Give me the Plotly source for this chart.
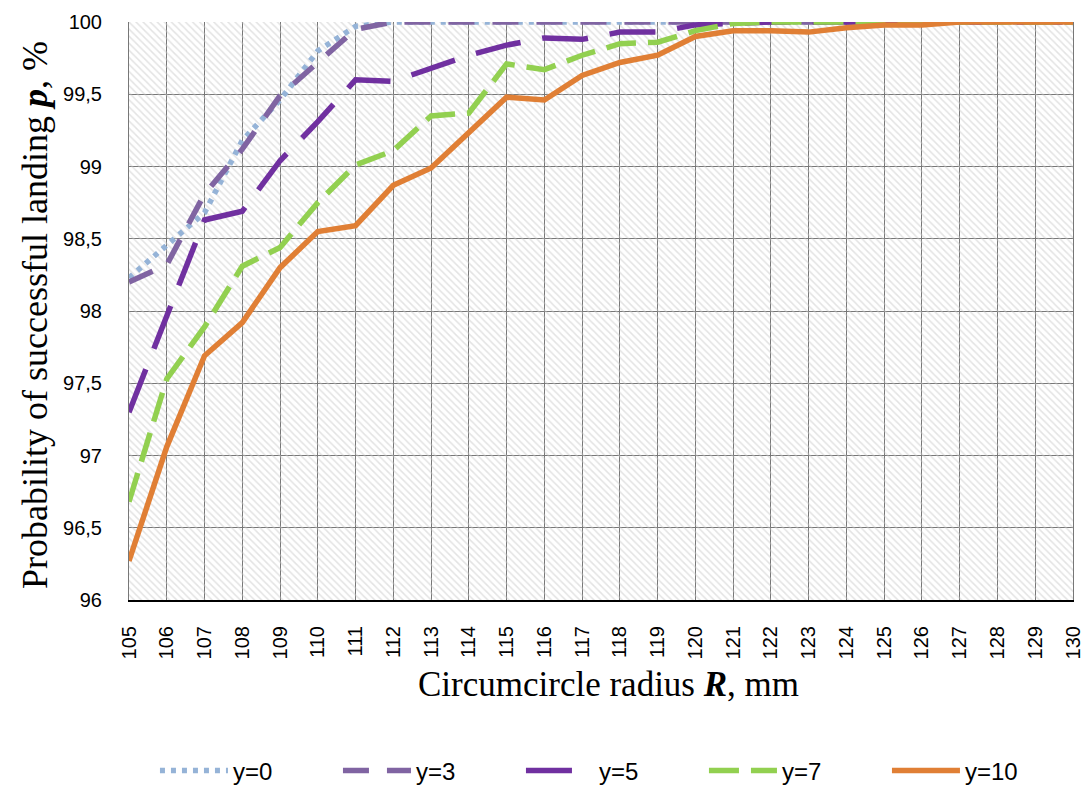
import plotly.graph_objects as go

R = list(range(105, 131))

p_y0 = [98.23, 98.45, 98.68, 99.18, 99.46, 99.80, 99.97, 100, 100, 100, 100, 100, 100, 100, 100,
        100, 100, 100, 100, 100, 100, 100, 100, 100, 100, 100]
p_y3 = [98.20, 98.32, 98.81, 99.12, 99.49, 99.72, 99.95, 100, 100, 100, 100, 100, 100, 100, 100,
        100, 100, 100, 100, 100, 100, 100, 100, 100, 100, 100]
p_y5 = [97.30, 97.97, 98.63, 98.69, 99.04, 99.31, 99.60, 99.59, 99.68, 99.77, 99.84, 99.89, 99.88,
        99.93, 99.93, 99.98, 99.99, 100, 100, 100, 100, 100, 100, 100, 100, 100]
p_y7 = [96.68, 97.53, 97.89, 98.31, 98.44, 98.75, 99.01, 99.11, 99.35, 99.37, 99.71, 99.67, 99.77,
        99.85, 99.86, 99.94, 99.99, 100, 100, 100, 100, 100, 100, 100, 100, 100]
p_y10 = [96.27, 97.06, 97.69, 97.92, 98.30, 98.55, 98.59, 98.87, 98.99, 99.23, 99.48, 99.46, 99.63,
         99.72, 99.77, 99.90, 99.94, 99.94, 99.93, 99.96, 99.98, 99.98, 100, 100, 100, 100]

series_names = ["y=0", "y=3", "y=5", "y=7", "y=10"]
series_vals = [p_y0, p_y3, p_y5, p_y7, p_y10]
colors = ["#95B3D7", "#8064A2", "#7030A0", "#92D050", "#E07F35"]
dashes = ["5px,6px", "26px,18px", "46px,22px", "30px,12px", "solid"]

Y_MIN, Y_MAX = 96, 100

fig = go.Figure()

# hatched plot background
fig.add_trace(go.Scatter(
    x=[R[0], R[-1], R[-1], R[0], R[0]],
    y=[Y_MIN, Y_MIN, Y_MAX, Y_MAX, Y_MIN],
    mode="lines", line=dict(width=0), fill="toself",
    fillcolor="rgba(0,0,0,0)",
    fillpattern=dict(shape="\\", fgcolor="#c8c8c8", bgcolor="rgba(0,0,0,0)", size=5, solidity=0.3),
    showlegend=False, hoverinfo="skip"))

for name, vals, c, d in zip(series_names, series_vals, colors, dashes):
    fig.add_trace(go.Scatter(
        x=R, y=vals, name=name, mode="lines",
        line=dict(color=c, width=5.5, dash=d)))

fig.update_layout(
    width=1086, height=787,
    margin=dict(l=129, r=13, t=22, b=187),
    paper_bgcolor="white", plot_bgcolor="white",
    separators=", ",
    font=dict(family="Liberation Sans, Arial, sans-serif", size=20, color="black"),
    xaxis=dict(range=[R[0], R[-1]], dtick=1, tick0=105, tickangle=-90,
               showgrid=True, gridcolor="#777777", gridwidth=1,
               showline=True, linecolor="black", linewidth=2, mirror=False,
               zeroline=False, ticks="", ticklabelstandoff=16, automargin=False,
               tickfont=dict(size=20)),
    yaxis=dict(range=[Y_MIN, Y_MAX], dtick=0.5, tick0=96,
               showgrid=True, gridcolor="#777777", gridwidth=1,
               showline=True, linecolor="#777777", linewidth=1, mirror=True,
               zeroline=False, ticks="", ticklabelstandoff=22, automargin=False,
               tickfont=dict(size=20)),
    legend=dict(orientation="h", x=0.0275, xanchor="left",
                yref="container", y=0.0203, yanchor="middle",
                font=dict(family="Liberation Sans, Arial, sans-serif", size=24),
                itemwidth=68, entrywidth=100, entrywidthmode="pixels",
                tracegroupgap=0, bgcolor="rgba(0,0,0,0)"),
    annotations=[
        dict(text="Probability of successful landing <b><i>p</i></b>, %",
             xref="paper", yref="paper", x=-0.0996, y=0.493, textangle=-90,
             showarrow=False, xanchor="center", yanchor="middle",
             font=dict(family="Liberation Serif, Times New Roman, serif", size=36)),
        dict(text="Circumcircle radius <b><i>R</i></b>, mm",
             xref="paper", yref="paper", x=0.508, y=-0.147,
             showarrow=False, xanchor="center", yanchor="middle",
             font=dict(family="Liberation Serif, Times New Roman, serif", size=35)),
    ],
)

fig.write_html("out.html")
